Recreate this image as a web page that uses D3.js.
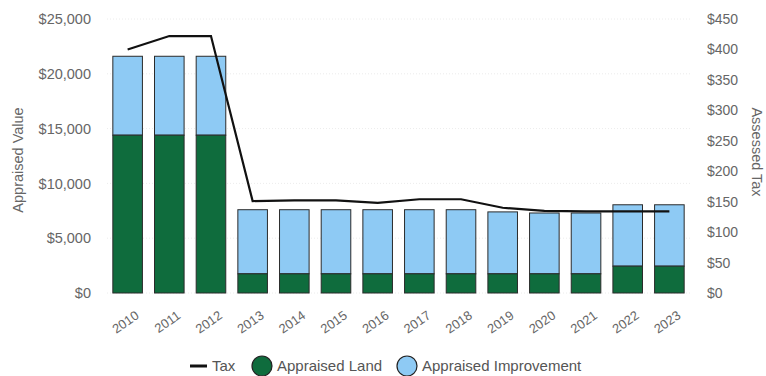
<!DOCTYPE html>
<html>
<head>
<meta charset="utf-8">
<script src="https://cdn.jsdelivr.net/npm/d3@7"></script>
<style>
  body { margin: 0; background: #fff; }
  text { font-family: "Liberation Sans", Arial, sans-serif; }
</style>
</head>
<body>
<div id="chart"></div>
<script>
const years = ['2010','2011','2012','2013','2014','2015','2016','2017','2018','2019','2020','2021','2022','2023'];
const landValues = [14400,14400,14400,1750,1750,1750,1750,1750,1750,1750,1750,1750,2450,2450];
const improvementValues = [7200,7200,7200,5850,5850,5850,5850,5850,5850,5650,5550,5550,5600,5600];
const taxValues = [400,422,422,151,152,152,148,154,154,140,135,134,134,134];
const leftTicks = [0,5000,10000,15000,20000,25000];
const rightTicks = [0,50,100,150,200,250,300,350,400,450];

const W = 766, H = 376;
const margin = { top: 19, right: 76, bottom: 83, left: 107 };

const svg = d3.select('#chart').append('svg')
  .attr('width', W).attr('height', H);

const x = d3.scaleBand().domain(years)
  .range([margin.left, W - margin.right])
  .paddingInner(0.29).paddingOuter(0.14);
const yL = d3.scaleLinear().domain([0, 25000]).range([H - margin.bottom, margin.top]);
const yR = d3.scaleLinear().domain([0, 450]).range([H - margin.bottom, margin.top]);

const fmt = d3.format('$,');

// gridlines
svg.append('g').selectAll('line').data(leftTicks).join('line')
  .attr('x1', margin.left).attr('x2', W - margin.right)
  .attr('y1', d => yL(d)).attr('y2', d => yL(d))
  .attr('stroke', '#ececec').attr('stroke-dasharray', '1,2');

// left axis
const gL = svg.append('g').attr('transform', `translate(${margin.left - 13},0)`)
  .call(d3.axisLeft(yL).tickValues(leftTicks).tickFormat(fmt).tickSize(0));
gL.select('.domain').remove();
gL.selectAll('text').attr('fill', '#666').style('font-size', '14.5px');

// right axis
const gR = svg.append('g').attr('transform', `translate(${W - margin.right + 14},0)`)
  .call(d3.axisRight(yR).tickValues(rightTicks).tickFormat(fmt).tickSize(0));
gR.select('.domain').remove();
gR.selectAll('text').attr('fill', '#666').style('font-size', '14px');

// bars
const bars = svg.append('g');
years.forEach((yr, i) => {
  const land = landValues[i], imp = improvementValues[i];
  bars.append('rect')
    .attr('x', x(yr)).attr('width', x.bandwidth())
    .attr('y', yL(land + imp)).attr('height', yL(land) - yL(land + imp))
    .attr('fill', '#8ecaf4').attr('stroke', '#2b2b2b').attr('stroke-width', 1);
  bars.append('rect')
    .attr('x', x(yr)).attr('width', x.bandwidth())
    .attr('y', yL(land)).attr('height', yL(0) - yL(land))
    .attr('fill', '#0f6c3d').attr('stroke', '#2b2b2b').attr('stroke-width', 1);
});

// tax line
const line = d3.line()
  .x((d, i) => x(years[i]) + x.bandwidth() / 2)
  .y(d => yR(d));
svg.append('path').datum(taxValues)
  .attr('d', line).attr('fill', 'none')
  .attr('stroke', '#111').attr('stroke-width', 2.2);

// x labels
svg.append('g').selectAll('text').data(years).join('text')
  .attr('transform', d => `translate(${x(d) + x.bandwidth() / 2 + 7},${H - margin.bottom + 17}) rotate(-35)`)
  .attr('text-anchor', 'end').attr('dy', '0.7em')
  .attr('fill', '#666').style('font-size', '13px')
  .text(d => d);

// axis titles
svg.append('text')
  .attr('transform', 'translate(23,160) rotate(-90)')
  .attr('text-anchor', 'middle').attr('fill', '#666').style('font-size', '14.5px')
  .text('Appraised Value');
svg.append('text')
  .attr('transform', 'translate(752,152) rotate(90)')
  .attr('text-anchor', 'middle').attr('fill', '#666').style('font-size', '14.5px')
  .text('Assessed Tax');

// legend
const lg = svg.append('g').attr('transform', 'translate(0,366)');
lg.append('line').attr('x1', 190).attr('x2', 207).attr('y1', 0).attr('y2', 0)
  .attr('stroke', '#111').attr('stroke-width', 3);
lg.append('text').attr('x', 212).attr('y', 0).attr('dy', '0.35em')
  .attr('fill', '#555').style('font-size', '15px').text('Tax');
lg.append('circle').attr('cx', 262).attr('cy', 0).attr('r', 10)
  .attr('fill', '#0f6c3d').attr('stroke', '#222').attr('stroke-width', 1.2);
lg.append('text').attr('x', 277).attr('y', 0).attr('dy', '0.35em')
  .attr('fill', '#555').style('font-size', '15px').text('Appraised Land');
lg.append('circle').attr('cx', 407).attr('cy', 0).attr('r', 10)
  .attr('fill', '#8ecaf4').attr('stroke', '#222').attr('stroke-width', 1.2);
lg.append('text').attr('x', 422).attr('y', 0).attr('dy', '0.35em')
  .attr('fill', '#555').style('font-size', '15px').text('Appraised Improvement');
</script>
</body>
</html>
